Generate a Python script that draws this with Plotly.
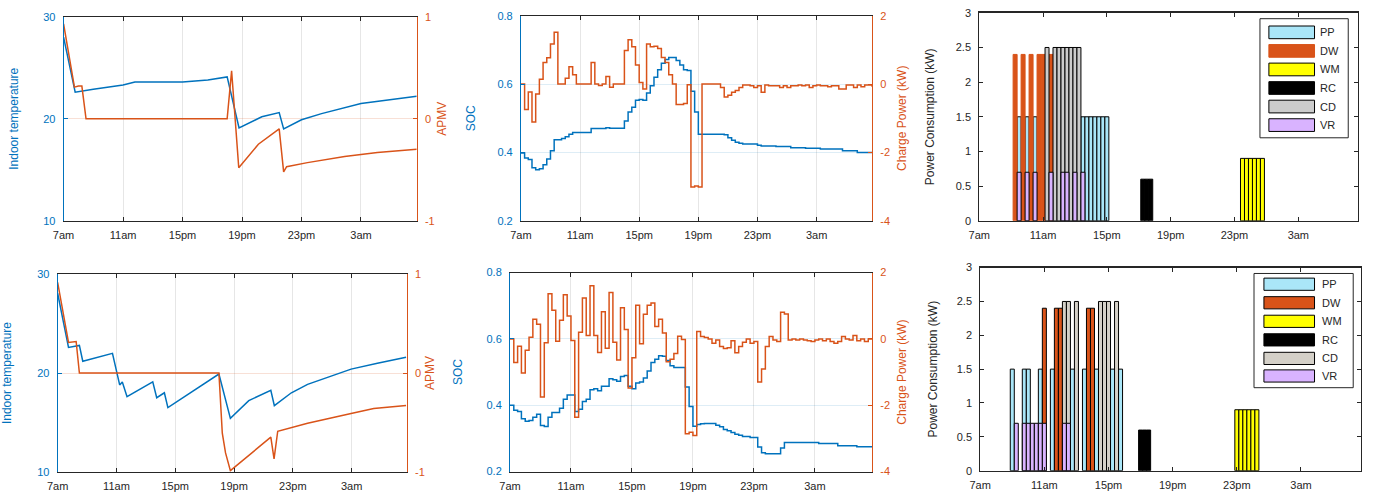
import plotly.graph_objects as go

W, H = 1379, 504
BLUE = "#0072BD"
ORANGE = "#D95319"
DARK = "#262626"
GRID = "#E6E6E6"
FONT = "Liberation Sans, Arial, Helvetica, sans-serif"

# ---------------- data ----------------
tick_hours = [0, 4, 8, 12, 16, 20]
tick_labels = ["7am", "11am", "15pm", "19pm", "23pm", "3am"]
step_hours = [i * 0.25 for i in range(96)]   # 15-min steps after 7am

# Scenario 1 (top row)
temp1_t = [0, 0.78, 2.0, 4.0, 4.8, 8.0, 9.7, 11.0, 11.8, 13.33, 14.5, 14.8, 16.0, 17.35, 20.0, 23.75]
temp1 = [28.0, 22.6, 22.9, 23.3, 23.6, 23.6, 23.8, 24.1, 19.1, 20.2, 20.6, 19.0, 19.9, 20.5, 21.5, 22.2]
apmv1_t = [0, 0.73, 1.0, 1.23, 1.51, 11.0, 11.3, 11.78, 13.1, 14.5, 14.8, 15.0, 16.4, 18.9, 21.1, 23.75]
apmv1 = [0.93, 0.31, 0.32, 0.32, 0.0, 0.0, 0.47, -0.48, -0.25, -0.10, -0.52, -0.47, -0.43, -0.37, -0.33, -0.30]

soc1 = [0.398, 0.384, 0.379, 0.355, 0.349, 0.352, 0.364, 0.381, 0.405, 0.437,
        0.437, 0.441, 0.446, 0.453, 0.458, 0.458, 0.458, 0.458, 0.458, 0.470,
        0.470, 0.470, 0.470, 0.472, 0.471, 0.471, 0.471, 0.471, 0.492, 0.518,
        0.532, 0.553, 0.555, 0.553, 0.574, 0.595, 0.620, 0.642, 0.661, 0.672,
        0.678, 0.678, 0.669, 0.656, 0.642, 0.640, 0.579, 0.518, 0.453, 0.453,
        0.453, 0.453, 0.453, 0.453, 0.453, 0.452, 0.443, 0.436, 0.430, 0.427,
        0.425, 0.425, 0.425, 0.425, 0.421, 0.419, 0.419, 0.419, 0.419, 0.417,
        0.417, 0.417, 0.417, 0.414, 0.414, 0.414, 0.414, 0.412, 0.412, 0.412,
        0.412, 0.410, 0.410, 0.410, 0.410, 0.410, 0.410, 0.405, 0.405, 0.405,
        0.405, 0.400, 0.400, 0.400, 0.400, 0.398]
pch1 = [0.0, -0.74, -0.23, -1.11, -0.29, 0.14, 0.63, 0.77, 1.17, 1.52,
        0.0, 0.0, 0.17, 0.51, 0.27, 0.0, 0.0, 0.0, 0.0, 0.63,
        0.0, -0.04, 0.0, 0.22, -0.09, 0.0, 0.0, 0.0, 0.98, 1.30,
        1.09, 0.56, 0.05, -0.14, 1.17, 1.09, 1.11, 1.04, 0.78, 0.63,
        0.27, 0.0, -0.60, -0.60, -0.57, -0.02, -3.01, -2.98, -3.01, 0.0,
        0.0, 0.0, 0.0, 0.0, -0.10, -0.38, -0.33, -0.24, -0.19, -0.10,
        -0.03, -0.03, -0.05, -0.10, -0.05, -0.24, -0.03, -0.05, -0.05, -0.05,
        -0.10, -0.05, -0.10, -0.05, -0.05, -0.03, -0.05, -0.03, -0.10, -0.05,
        -0.03, -0.05, -0.05, -0.08, -0.05, -0.05, -0.14, -0.14, -0.03, -0.03,
        -0.10, -0.03, -0.08, -0.03, -0.03, -0.08]

# Scenario 2 (bottom row)
temp2_t = [0, 0.74, 1.48, 1.71, 3.73, 4.22, 4.4, 4.72, 6.47, 6.74, 7.26, 7.5, 10.97, 11.75, 13.0, 14.5, 14.74,
           15.9, 17.0, 19.96, 21.75, 23.7]
temp2 = [28.1, 22.6, 22.8, 21.2, 22.0, 18.8, 19.1, 17.6, 19.1, 17.5, 18.0, 16.5, 19.9, 15.4, 17.2, 18.25, 16.7,
         18.0, 18.85, 20.4, 21.0, 21.6]
apmv2_t = [0, 0.74, 1.26, 1.48, 10.97, 11.2, 11.42, 11.75, 14.5, 14.72, 14.97, 17.0, 19.96, 21.5, 23.7]
apmv2 = [0.92, 0.31, 0.32, 0.0, 0.0, -0.61, -0.81, -0.99, -0.65, -0.87, -0.59, -0.51, -0.41, -0.36, -0.33]

soc2 = [0.400, 0.385, 0.381, 0.359, 0.352, 0.354, 0.364, 0.373, 0.339, 0.336,
        0.364, 0.378, 0.378, 0.391, 0.418, 0.431, 0.431, 0.381, 0.388, 0.411,
        0.418, 0.447, 0.450, 0.444, 0.457, 0.457, 0.480, 0.477, 0.472, 0.487,
        0.490, 0.457, 0.450, 0.467, 0.470, 0.482, 0.503, 0.529, 0.539, 0.549,
        0.548, 0.535, 0.519, 0.514, 0.514, 0.514, 0.455, 0.396, 0.337, 0.342,
        0.344, 0.345, 0.345, 0.345, 0.340, 0.335, 0.327, 0.323, 0.318, 0.313,
        0.310, 0.306, 0.306, 0.303, 0.303, 0.274, 0.257, 0.254, 0.254, 0.254,
        0.254, 0.271, 0.288, 0.288, 0.288, 0.288, 0.288, 0.288, 0.288, 0.288,
        0.288, 0.285, 0.285, 0.285, 0.285, 0.285, 0.278, 0.278, 0.278, 0.278,
        0.278, 0.275, 0.275, 0.275, 0.275, 0.275]
pch2 = [0.0, -0.71, -0.22, -1.03, -0.34, 0.05, 0.59, 0.44, -1.75, -0.12,
        1.36, 0.86, -0.07, 0.56, 1.33, 0.69, -0.05, -2.36, 0.20, 1.23,
        0.10, 1.60, 0.10, -0.41, 0.82, -0.28, 1.40, -0.10, -0.64, 0.94,
        0.28, -1.48, -0.57, 1.01, -0.15, 0.74, 1.01, 1.08, 0.37, 0.59,
        0.18, -0.69, -0.61, -0.44, 0.08, -0.02, -2.86, -2.81, -2.91, 0.22,
        0.07, 0.04, 0.0, -0.13, -0.03, -0.23, -0.29, -0.27, -0.06, -0.42,
        -0.23, -0.10, 0.0, -0.13, -0.08, -1.30, -0.91, -0.23, 0.07, -0.03,
        -0.08, 0.80, 0.75, -0.03, 0.0, -0.03, 0.0, -0.03, -0.06, -0.08,
        -0.03, 0.0, -0.06, 0.0, -0.08, -0.13, -0.08, 0.07, 0.0, -0.03,
        0.10, -0.06, 0.0, -0.08, 0.0, 0.0]

# Appliance schedules: 15-min slot indices after 7am, and power ratings (kW)
appliances = ["PP", "DW", "WM", "RC", "CD", "VR"]
rating = {"PP": 1.5, "DW": 2.4, "WM": 0.9, "RC": 0.6, "CD": 2.5, "VR": 0.7}
slots1 = {
    "PP": [10, 12, 14, 26, 27, 28, 29, 30, 31, 32],
    "DW": [9, 11, 13, 15, 16, 18],
    "WM": [66, 67, 68, 69, 70, 71],
    "RC": [41, 42, 43],
    "CD": [17, 19, 20, 21, 22, 23, 24, 25],
    "VR": [10, 12, 14, 18, 21, 22, 24, 26],
}
slots2 = {
    "PP": [8, 11, 12, 15, 18, 23, 26, 29, 33, 35],
    "DW": [16, 19, 20, 27, 28],
    "WM": [64, 65, 66, 67, 68, 69],
    "RC": [40, 41, 42],
    "CD": [21, 22, 24, 30, 31, 32, 34],
    "VR": [9, 11, 12, 13, 14, 15, 16, 21, 22],
}

# ---------------- styling ----------------
fill1 = {"PP": "#AAE6F8", "DW": "#D95319", "WM": "#FFFF00", "RC": "#000000", "CD": "#CCCCCC", "VR": "#D9B3FF"}
fill2 = {"PP": "#AAE6F8", "DW": "#D95319", "WM": "#FFFF00", "RC": "#000000", "CD": "#D4D0C8", "VR": "#D9B3FF"}
edge1 = {"PP": "#000000", "DW": "#D95319", "WM": "#000000", "RC": "#000000", "CD": "#000000", "VR": "#000000"}
edge2 = {k: "#000000" for k in appliances}


def fx(px):
    return px / W


def fy(py):
    return 1 - py / H


panels = {
    1: dict(x=[53, 409], y=[11, 220]),
    2: dict(x=[514, 868], y=[10, 220]),
    3: dict(x=[976, 1358], y=[7, 220]),
    4: dict(x=[47, 399], y=[275, 477]),
    5: dict(x=[503, 868], y=[273, 477]),
    6: dict(x=[977, 1361], y=[268, 476]),
}


def xdom(p):
    return [fx(panels[p]["x"][0]), fx(panels[p]["x"][1])]


def ydom(p):
    return [fy(panels[p]["y"][1]), fy(panels[p]["y"][0])]


fig = go.Figure()

# Panel 1 & 4: temperature / APMV
for (tt, tv, at, av, xa, yl, yr) in [
    (temp1_t, temp1, apmv1_t, apmv1, "x", "y", "y2"),
    (temp2_t, temp2, apmv2_t, apmv2, "x4", "y6", "y7"),
]:
    fig.add_trace(go.Scatter(x=tt, y=tv, xaxis=xa, yaxis=yl, mode="lines",
                             line=dict(color=BLUE, width=1.5), showlegend=False))
    fig.add_trace(go.Scatter(x=at, y=av, xaxis=xa, yaxis=yr, mode="lines",
                             line=dict(color=ORANGE, width=1.5), showlegend=False))

# Panel 2 & 5: SOC / charge power (stairs)
for (sv, pv, xa, yl, yr) in [
    (soc1, pch1, "x2", "y3", "y4"),
    (soc2, pch2, "x5", "y8", "y9"),
]:
    fig.add_trace(go.Scatter(x=step_hours, y=sv, xaxis=xa, yaxis=yl, mode="lines",
                             line=dict(color=BLUE, width=1.5, shape="hv"), showlegend=False))
    fig.add_trace(go.Scatter(x=step_hours, y=pv, xaxis=xa, yaxis=yr, mode="lines",
                             line=dict(color=ORANGE, width=1.5, shape="hv"), showlegend=False))

# Panel 3 & 6: appliance bars (overlaid)
for (slots, fills, edges, xa, ya) in [
    (slots1, fill1, edge1, "x3", "y5"),
    (slots2, fill2, edge2, "x6", "y10"),
]:
    for name in appliances:
        xs = [s * 0.25 for s in slots[name]]
        ys = [rating[name]] * len(xs)
        fig.add_trace(go.Bar(x=xs, y=ys, width=0.25, xaxis=xa, yaxis=ya, name=name,
                             marker=dict(color=fills[name], line=dict(color=edges[name], width=1)),
                             showlegend=False))


def time_axis(p, anchor, grid=True, lw=1):
    return dict(domain=xdom(p), anchor=anchor, range=[0, 23.75], tickvals=tick_hours, ticktext=tick_labels,
                showline=True, linecolor=DARK, linewidth=lw, mirror="ticks", ticks="inside", ticklen=4,
                tickcolor=DARK, showgrid=grid, gridcolor=GRID, zeroline=False,
                tickfont=dict(size=11, color=DARK), ticklabelstandoff=4, fixedrange=True)


def y_axis(p, anchor, rng, vals, texts, title, color, grid, gridcolor, side="left", overlay=None, standoff=10):
    d = dict(range=rng, tickvals=vals, ticktext=texts, showline=True, linecolor=color, linewidth=1,
             ticks="inside", ticklen=4, tickcolor=color, tickfont=dict(size=11, color=color),
             showgrid=grid, gridcolor=gridcolor, zeroline=False, anchor=anchor, side=side,
             title=dict(text=title, font=dict(size=12, color=color), standoff=standoff),
             ticklabelstandoff=5, fixedrange=True)
    if overlay:
        d["overlaying"] = overlay
    else:
        d["domain"] = ydom(p)
    return d


def bar_y_axis(p, anchor, standoff):
    return dict(domain=ydom(p), anchor=anchor, range=[0, 3], tickvals=[0, 0.5, 1, 1.5, 2, 2.5, 3],
                ticktext=["0", "0.5", "1", "1.5", "2", "2.5", "3"], showline=True, linecolor=DARK, linewidth=1,
                mirror="ticks", ticks="inside", ticklen=4, tickcolor=DARK, showgrid=False, zeroline=False,
                tickfont=dict(size=11, color=DARK), ticklabelstandoff=5, fixedrange=True,
                title=dict(text="Power Consumption (kW)", font=dict(size=12, color=DARK), standoff=standoff))


LBLUE_GRID = "rgba(0,114,189,0.13)"
LORANGE_GRID = "rgba(217,83,25,0.18)"

layout = dict(
    width=W, height=H, margin=dict(l=0, r=0, t=0, b=0),
    paper_bgcolor="white", plot_bgcolor="white",
    font=dict(family=FONT, size=11, color=DARK),
    barmode="overlay", bargap=0, showlegend=False,
    xaxis=time_axis(1, "y"),
    yaxis=y_axis(1, "x", [10, 30], [10, 20, 30], ["10", "20", "30"], "Indoor temperature", BLUE, False,
                 LBLUE_GRID, standoff=21),
    yaxis2=y_axis(1, "x", [-1, 1], [-1, 0, 1], ["-1", "0", "1"], "APMV", ORANGE, True, LORANGE_GRID,
                  side="right", overlay="y", standoff=3),
    xaxis2=time_axis(2, "y3"),
    yaxis3=y_axis(2, "x2", [0.2, 0.8], [0.2, 0.4, 0.6, 0.8], ["0.2", "0.4", "0.6", "0.8"], "SOC", BLUE, True,
                  LBLUE_GRID, standoff=19),
    yaxis4=y_axis(2, "x2", [-4, 2], [-4, -2, 0, 2], ["-4", "-2", "0", "2"], "Charge Power (kW)", ORANGE, False,
                  LORANGE_GRID, side="right", overlay="y3", standoff=8),
    xaxis3=time_axis(3, "y5", grid=False, lw=1.5),
    yaxis5=bar_y_axis(3, "x3", 18),
    xaxis4=time_axis(4, "y6"),
    yaxis6=y_axis(4, "x4", [10, 30], [10, 20, 30], ["10", "20", "30"], "Indoor temperature", BLUE, False,
                  LBLUE_GRID, standoff=22),
    yaxis7=y_axis(4, "x4", [-1, 1], [-1, 0, 1], ["-1", "0", "1"], "APMV", ORANGE, True, LORANGE_GRID,
                  side="right", overlay="y6", standoff=1),
    xaxis5=time_axis(5, "y8"),
    yaxis8=y_axis(5, "x5", [0.2, 0.8], [0.2, 0.4, 0.6, 0.8], ["0.2", "0.4", "0.6", "0.8"], "SOC", BLUE, True,
                  LBLUE_GRID, standoff=21),
    yaxis9=y_axis(5, "x5", [-4, 2], [-4, -2, 0, 2], ["-4", "-2", "0", "2"], "Charge Power (kW)", ORANGE, False,
                  LORANGE_GRID, side="right", overlay="y8", standoff=8),
    xaxis6=time_axis(6, "y10", grid=False, lw=1.5),
    yaxis10=bar_y_axis(6, "x6", 16),
)

# ---------------- legends (drawn inside the bar panels) ----------------
shapes = []
annotations = []
legend_specs = [
    dict(box=(1259, 13, 1348, 135), sw=(1268, 1314), rows=[27, 46, 65, 84, 103, 122], sh=13,
         fills=fill1, edges=edge1, tx=1318),
    dict(box=(1253, 274, 1353, 391), sw=(1263, 1314), rows=[285, 304, 323, 342, 361, 379], sh=12.5,
         fills=fill2, edges=edge2, tx=1320),
]
for spec in legend_specs:
    x0, y0, x1, y1 = spec["box"]
    shapes.append(dict(type="rect", xref="paper", yref="paper", x0=fx(x0), x1=fx(x1), y0=fy(y1), y1=fy(y0),
                       line=dict(color=DARK, width=1), fillcolor="white", layer="above"))
    for name, cy in zip(appliances, spec["rows"]):
        shapes.append(dict(type="rect", xref="paper", yref="paper",
                           x0=fx(spec["sw"][0]), x1=fx(spec["sw"][1]),
                           y0=fy(cy + spec["sh"] / 2), y1=fy(cy - spec["sh"] / 2),
                           fillcolor=spec["fills"][name], line=dict(color=spec["edges"][name], width=1),
                           layer="above"))
        annotations.append(dict(text=name, xref="paper", yref="paper", x=fx(spec["tx"]), y=fy(cy),
                                xanchor="left", yanchor="middle", showarrow=False,
                                font=dict(size=11, color=DARK, family=FONT)))

layout["shapes"] = shapes
layout["annotations"] = annotations
fig.update_layout(**layout)

fig.write_html("out.html", config={"displayModeBar": False, "staticPlot": True},
               post_script="document.body.style.margin='0px';")
